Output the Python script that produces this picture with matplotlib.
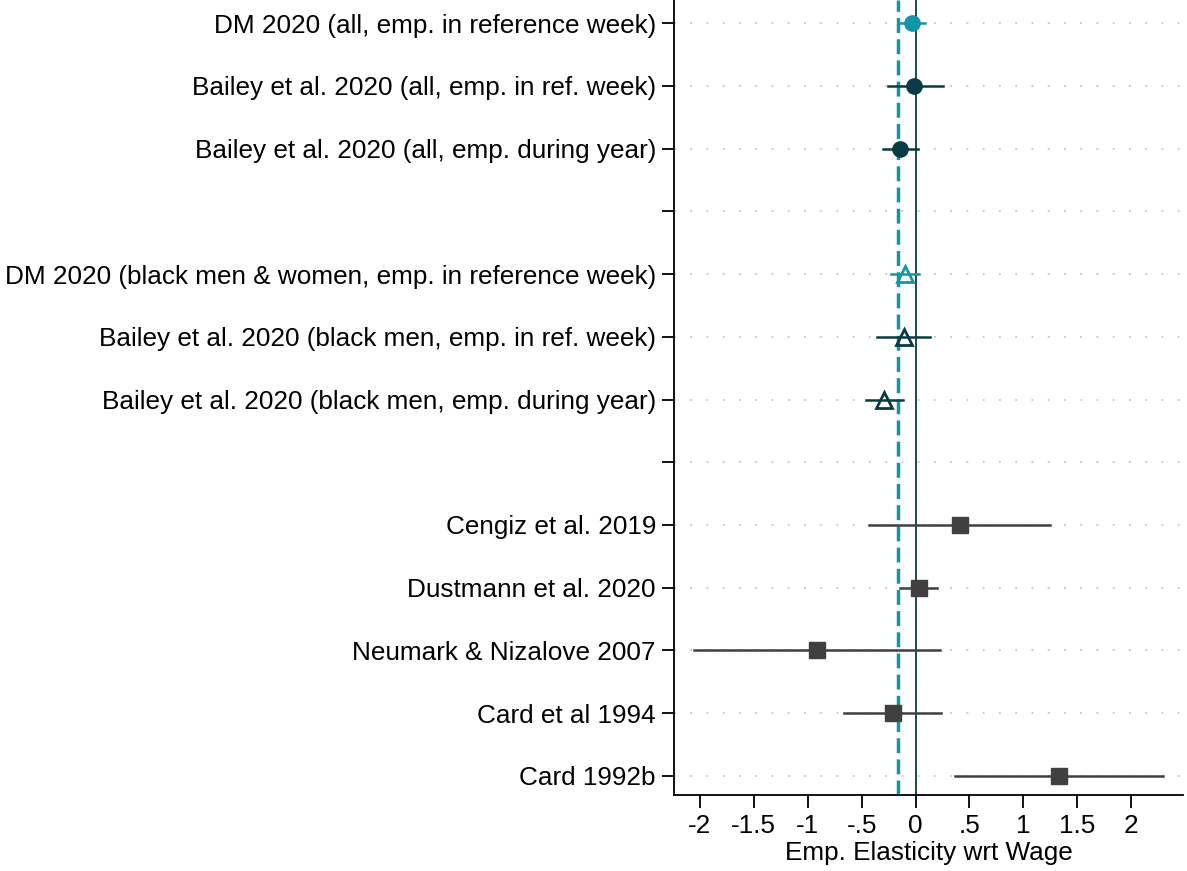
import matplotlib
matplotlib.use("Agg")
import matplotlib.pyplot as plt
import numpy as np

plt.rcParams['font.family'] = ['Liberation Sans', 'DejaVu Sans']

labels = [
    "DM 2020 (all, emp. in reference week)",
    "Bailey et al. 2020 (all, emp. in ref. week)",
    "Bailey et al. 2020 (all, emp. during year)",
    "",
    "DM 2020 (black men & women, emp. in reference week)",
    "Bailey et al. 2020 (black men, emp. in ref. week)",
    "Bailey et al. 2020 (black men, emp. during year)",
    "",
    "Cengiz et al. 2019",
    "Dustmann et al. 2020",
    "Neumark & Nizalove 2007",
    "Card et al 1994",
    "Card 1992b",
]

# estimates and confidence intervals (None for blank rows)
est  = [-0.03, -0.01, -0.14, None, -0.10, -0.11, -0.29, None, 0.41, 0.03, -0.91, -0.21, 1.33]
lo   = [-0.16, -0.26, -0.30, None, -0.23, -0.36, -0.46, None, -0.43, -0.14, -2.05, -0.66, 0.37]
hi   = [0.09, 0.25, 0.02, None, 0.035, 0.135, -0.115, None, 1.25, 0.195, 0.225, 0.24, 2.29]
group = ["dm_all", "bailey", "bailey", None, "dm_black", "bailey_b", "bailey_b", None,
         "lit", "lit", "lit", "lit", "lit"]
dm_line = -0.16

xticks = [-2, -1.5, -1, -0.5, 0, 0.5, 1, 1.5, 2]
xticklabels = ["-2", "-1.5", "-1", "-.5", "0", ".5", "1", "1.5", "2"]

teal = "#1495a5"
dark = "#0a3a42"
gray = "#404040"

styles = {
    "dm_all":   dict(marker="o", color=teal, mfc=teal, ms=11),
    "bailey":   dict(marker="o", color=dark, mfc=dark, ms=11),
    "dm_black": dict(marker="^", color=teal, mfc="none", ms=12, mew=2),
    "bailey_b": dict(marker="^", color=dark, mfc="none", ms=12, mew=2),
    "lit":      dict(marker="s", color=gray, mfc=gray, ms=11),
}

FS = 18.8

fig = plt.figure(figsize=(11.87, 8.71), dpi=100)
ax = fig.add_axes([674/1187, 1-795/871, (1183-674)/1187, 795/871])

ypos = np.arange(1, len(labels) + 1)
for y in ypos:
    ax.axhline(y, color="#c4c4c4", lw=1.3, ls=(0, (1, 8)), zorder=0)

ax.axvline(0, color=dark, lw=1.3, zorder=1)
ax.axvline(dm_line, color=teal, lw=2.5, ls=(0, (4.3, 1.8)), zorder=1)

for y, e, l, h, g in zip(ypos, est, lo, hi, group):
    if e is None:
        continue
    st = styles[g]
    ax.plot([l, h], [y, y], color=st["color"], lw=1.8, zorder=2)
    ax.plot([e], [y], linestyle="none", marker=st["marker"], color=st["color"],
            markerfacecolor=st["mfc"], markersize=st["ms"], markeredgewidth=st.get("mew", 1),
            zorder=3)

ax.set_ylim(13 + 19/62.7, 1 - 23/62.7)
ax.set_xlim(-2.24, 2.48)
ax.set_yticks(ypos)
ax.set_yticklabels(labels, fontsize=FS)
ax.set_xticks(xticks)
ax.set_xticklabels(xticklabels, fontsize=FS)
ax.set_xlabel("Emp. Elasticity wrt Wage", fontsize=FS, labelpad=2)
ax.tick_params(axis="both", length=9, width=1.3, color="black", pad=4)
ax.tick_params(axis="x", pad=5)
for s in ["top", "right"]:
    ax.spines[s].set_visible(False)
for s in ["left", "bottom"]:
    ax.spines[s].set_linewidth(1.3)

fig.savefig("out.png", dpi=100)
